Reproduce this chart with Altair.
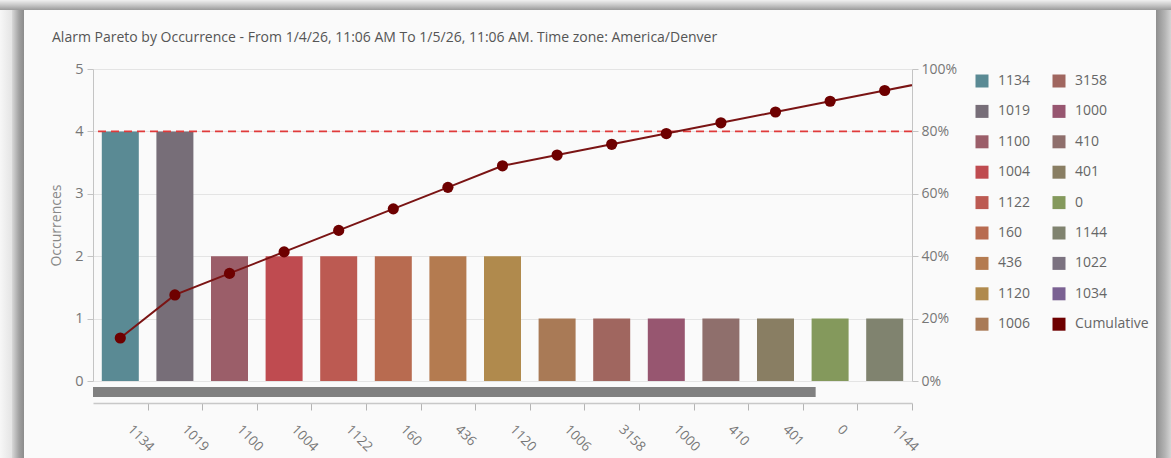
import altair as alt
import pandas as pd

# Alarm codes in Pareto order, occurrence counts and bar colours
categories = ["1134", "1019", "1100", "1004", "1122", "160", "436", "1120", "1006",
              "3158", "1000", "410", "401", "0", "1144", "1022", "1034"]
occurrences = [4, 4, 2, 2, 2, 2, 2, 2, 1, 1, 1, 1, 1, 1, 1, 1, 1]
bar_colors = ["#5a8a94", "#776e78", "#9b5e69", "#bf4b50", "#bc5a52", "#b86b50",
              "#b47b50", "#b08a4d", "#a97a56", "#a0665f", "#975670", "#8f6f6c",
              "#897e63", "#84995c", "#80836f", "#7b7280", "#7a6192"]
cumulative_color = "#6e0000"
threshold = 0.8
visible_count = 15
title_text = ("Alarm Pareto by Occurrence - From 1/4/26, 11:06 AM To 1/5/26, 11:06 AM. "
              "Time zone: America/Denver")

FONT = "Open Sans"
W, H = 819, 312
band = W / visible_count

df = pd.DataFrame({"idx": range(len(categories)), "alarm": categories,
                   "occurrences": occurrences})
df["cumulative"] = df["occurrences"].cumsum() / df["occurrences"].sum()

# legend lists alarms column by column, cumulative line last
legend_items = categories + ["Cumulative"]
legend_range = bar_colors + [cumulative_color]

label_js = "[" + ",".join("'%s'" % c for c in categories) + "]"

x_scale = alt.Scale(domain=[-0.5, visible_count - 0.5], nice=False, zero=False, padding=0)
x_axis = alt.Axis(
    values=list(range(visible_count)), labelExpr=label_js + "[datum.value]",
    labelAngle=45, labelAlign="left", labelBaseline="middle",
    tickOffset=band / 2, labelOffset=9 - band / 2, offset=22, tickSize=7,
    labelPadding=17, grid=False, domainColor="#c8c8c8", domainWidth=1.5,
    tickColor="#b4b4b4", labelColor="#777777", labelFontSize=13.5, labelFont=FONT,
    labelOverlap=False, labelFlush=False, labelBound=False, title=None)

count_scale = alt.Scale(domain=[0, 5], nice=False)
count_axis = alt.Axis(
    values=[0, 1, 2, 3, 4, 5], title="Occurrences", grid=True, gridColor="#e4e4e4",
    domainColor="#c4c4c4", tickColor="#c4c4c4", tickSize=6, labelPadding=4,
    labelColor="#777777", labelFontSize=14.5, labelFont=FONT,
    titleColor="#888888", titleFontSize=14, titleFontWeight="normal", titleFont=FONT,
    titlePadding=11)

pct_scale = alt.Scale(domain=[0, 1], nice=False)
pct_axis = alt.Axis(
    orient="right", format=".0%", values=[0, 0.2, 0.4, 0.6, 0.8, 1.0], grid=False,
    domainColor="#c4c4c4", tickColor="#c4c4c4", tickSize=6, labelPadding=3,
    labelColor="#777777", labelFontSize=14, labelFont=FONT, title=None)

one = pd.DataFrame({"k": [0]})


def shade(x, x2, y, y2, stops, horizontal=True):
    grad = alt.LinearGradient(
        gradient="linear",
        stops=[alt.GradientStop(color=c, offset=o) for o, c in stops],
        x1=0, y1=0, x2=1 if horizontal else 0, y2=0 if horizontal else 1)
    return alt.Chart(one).mark_rect(color=grad).encode(
        x=alt.value(x), x2=alt.value(x2), y=alt.value(y), y2=alt.value(y2))


# card shadow around the panel
frame = alt.layer(
    shade(-93, 1078, -69, -59, [(0, "#f0f0f0"), (0.5, "#c8c8c8"), (1, "#9a9a9a")], horizontal=False),
    shade(-93, -81, -59, 389, [(0, "#f7f7f7"), (1, "#e4e4e4")]),
    shade(-81, -69, -59, 389, [(0, "#d8d8d8"), (0.6, "#a0a0a0"), (1, "#8c8c8c")]),
    shade(1063, 1078, -59, 389, [(0, "#8e8e8e"), (0.6, "#b4b4b4"), (1, "#d4d4d4")]),
)

bars = alt.Chart(df).mark_bar(size=37, clip=True).encode(
    x=alt.X("idx:Q", scale=x_scale, axis=x_axis),
    y=alt.Y("occurrences:Q", scale=count_scale, axis=count_axis),
    color=alt.Color(
        "alarm:N", scale=alt.Scale(domain=legend_items, range=legend_range),
        legend=alt.Legend(
            title=None, orient="none", legendX=882, legendY=5, columns=2,
            symbolType="square", symbolSize=169, symbolStrokeWidth=0,
            symbolOpacity=1, labelFontSize=14, labelFont=FONT,
            labelColor="#666666", labelOffset=9, rowPadding=16.4,
            columnPadding=21, padding=0)),
)

# scroll position bar under the plot: visible share of all categories
scroll = pd.DataFrame({"start": [-0.5],
                       "end": [-0.5 + visible_count * visible_count / len(categories)]})
scrollbar = alt.Chart(scroll).mark_rect(color="#808080").encode(
    x=alt.X("start:Q", scale=x_scale, axis=x_axis), x2="end",
    y=alt.value(H + 6), y2=alt.value(H + 16))

rule = alt.Chart(pd.DataFrame({"threshold": [threshold]})).mark_rule(
    color="#e03a3a", strokeDash=[8, 5], strokeWidth=1.6).encode(
    y=alt.Y("threshold:Q", scale=pct_scale, axis=pct_axis))

line = alt.Chart(df).mark_line(color="#7a1414", strokeWidth=2, clip=True).encode(
    x=alt.X("idx:Q", scale=x_scale, axis=x_axis),
    y=alt.Y("cumulative:Q", scale=pct_scale, axis=pct_axis))

points = alt.Chart(df).mark_circle(color=cumulative_color, size=125, opacity=1,
                                   clip=True).encode(
    x=alt.X("idx:Q", scale=x_scale, axis=x_axis),
    y=alt.Y("cumulative:Q", scale=pct_scale, axis=pct_axis))

chart = alt.layer(
    frame, bars, scrollbar, alt.layer(rule, line, points)
).resolve_scale(y="independent").properties(
    width=W, height=H,
    autosize=alt.AutoSizeParams(type="none"),
    padding={"left": 93, "top": 69, "right": 259, "bottom": 77},
    background="#fafafa",
    title=alt.Title(title_text, anchor="start", fontSize=14, font=FONT,
                    color="#555555", fontWeight="normal", dx=52, offset=-45),
).configure_view(strokeWidth=0)

chart.save("out.html", embed_options={"renderer": "svg", "actions": False})
